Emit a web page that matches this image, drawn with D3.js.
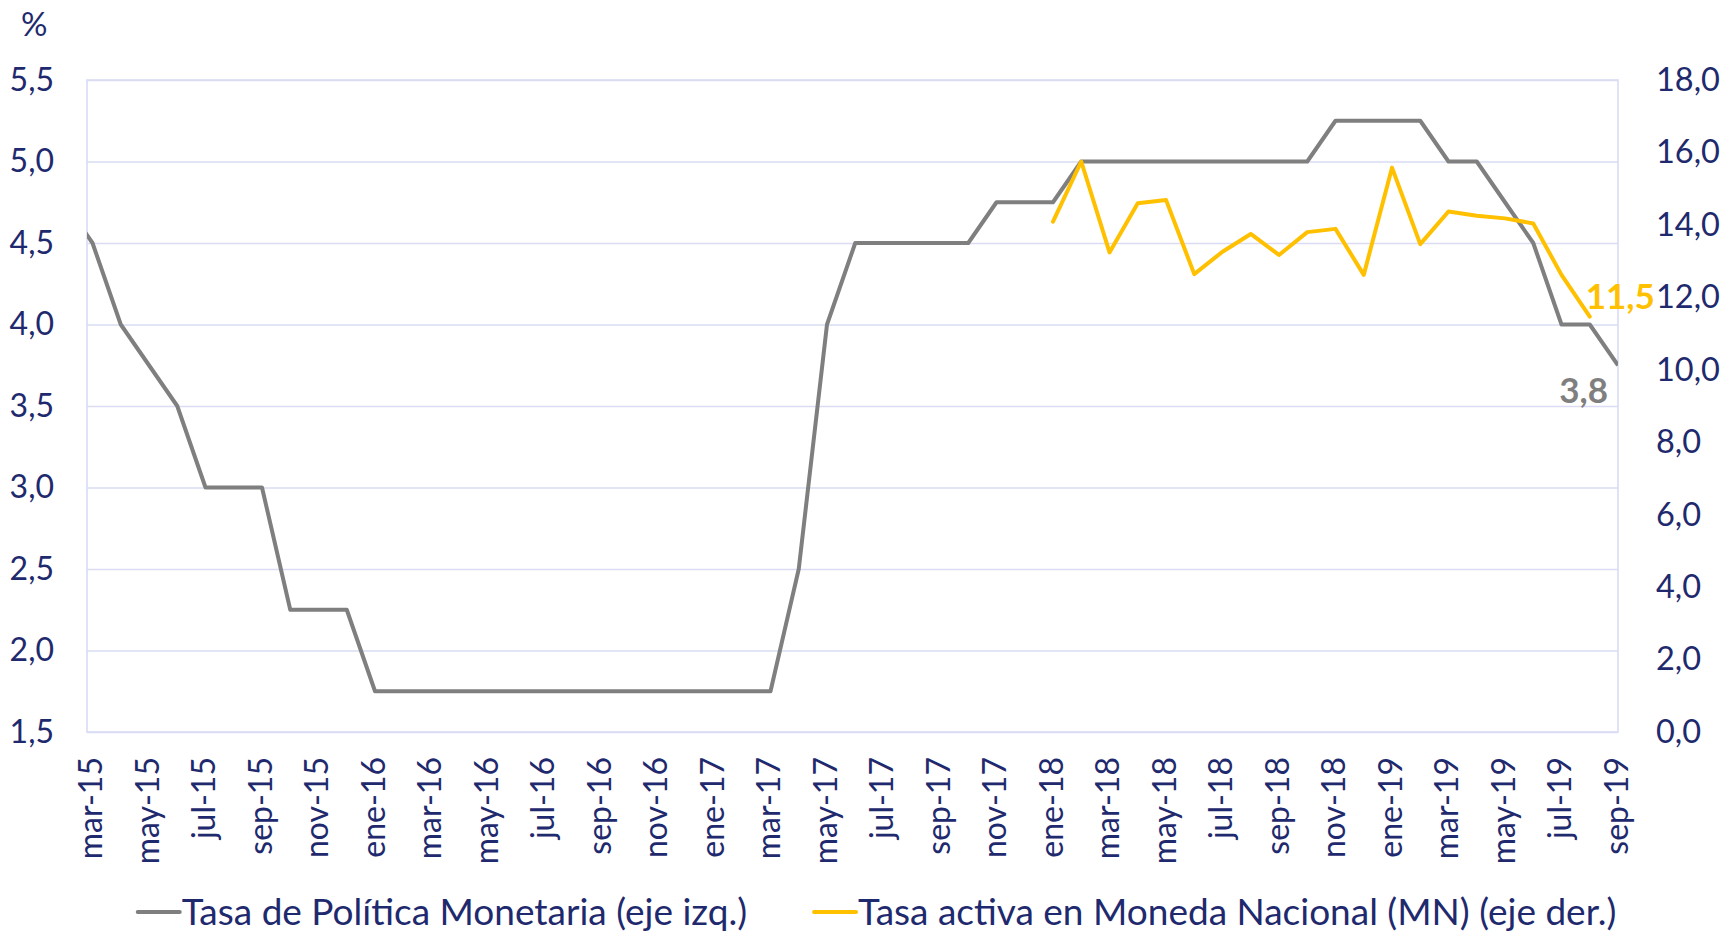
<!DOCTYPE html>
<html>
<head>
<meta charset="utf-8">
<script src="https://cdn.jsdelivr.net/npm/d3@7"></script>
<style>
  body { margin: 0; background: #fff; }
  svg text { font-family: Lato, "Noto Sans", sans-serif; }
</style>
</head>
<body>
<div id="chart"></div>
<script>
// meses (feb-15 queda fuera del eje, solo asoma el primer tramo)
var meses = [
  "feb-15","mar-15","abr-15","may-15","jun-15","jul-15","ago-15","sep-15","oct-15","nov-15","dic-15",
  "ene-16","feb-16","mar-16","abr-16","may-16","jun-16","jul-16","ago-16","sep-16","oct-16","nov-16","dic-16",
  "ene-17","feb-17","mar-17","abr-17","may-17","jun-17","jul-17","ago-17","sep-17","oct-17","nov-17","dic-17",
  "ene-18","feb-18","mar-18","abr-18","may-18","jun-18","jul-18","ago-18","sep-18","oct-18","nov-18","dic-18",
  "ene-19","feb-19","mar-19","abr-19","may-19","jun-19","jul-19","ago-19","sep-19"
];

// Tasa de Politica Monetaria (eje izq.)
var tpm = [
  4.75, 4.5, 4.0, 3.75, 3.5, 3.0, 3.0, 3.0, 2.25, 2.25, 2.25,
  1.75, 1.75, 1.75, 1.75, 1.75, 1.75, 1.75, 1.75, 1.75, 1.75, 1.75, 1.75,
  1.75, 1.75, 1.75, 2.5, 4.0, 4.5, 4.5, 4.5, 4.5, 4.5, 4.75, 4.75,
  4.75, 5.0, 5.0, 5.0, 5.0, 5.0, 5.0, 5.0, 5.0, 5.0, 5.25, 5.25,
  5.25, 5.25, 5.0, 5.0, 4.75, 4.5, 4.0, 4.0, 3.75
];

// Tasa activa en MN (eje der.), desde ene-18
var activaDesde = "ene-18";
var tasaActiva = [
  14.09, 15.75, 13.24, 14.6, 14.69, 12.64, 13.26, 13.75, 13.17, 13.8, 13.89, 12.62,
  15.58, 13.47, 14.37, 14.25, 14.18, 14.04, 12.62, 11.47
];

var ticksIzq = [1.5, 2.0, 2.5, 3.0, 3.5, 4.0, 4.5, 5.0, 5.5];
var ticksDer = [0, 2, 4, 6, 8, 10, 12, 14, 16, 18];
var etiquetasX = meses.filter(function(m, i) { return i % 2 == 1; });

var nombres = ["Tasa de Política Monetaria (eje izq.)", "Tasa activa en Moneda Nacional (MN) (eje der.)"];
var colores = ["#7f7f7f", "#ffc000"];

var azul = "#1f2a6e";
var grilla = "#d9dcf3";

var svgWidth = 1728;
var svgHeight = 931;
var margin = { top: 80, right: 110, bottom: 199, left: 87 };
var width = svgWidth - margin.left - margin.right;
var height = svgHeight - margin.top - margin.bottom;

var fmt = d3.formatLocale({ decimal: ",", thousands: ".", grouping: [3], currency: ["", ""] }).format(".1f");

var svg = d3.select("#chart").append("svg")
  .attr("width", svgWidth)
  .attr("height", svgHeight);

var chartGroup = svg.append("g")
  .attr("transform", `translate(${margin.left}, ${margin.top})`);

// el eje de fechas arranca un poco antes de mar-15
var x = d3.scaleLinear()
  .domain([0.805, meses.length - 1])
  .range([0, width]);

var yIzq = d3.scaleLinear().domain([1.5, 5.5]).range([height, 0]);
var yDer = d3.scaleLinear().domain([0, 18]).range([height, 0]);

chartGroup.append("defs").append("clipPath").attr("id", "area")
  .append("rect").attr("width", width).attr("height", height);

// grilla + eje izq
var ejeIzq = chartGroup.append("g")
  .call(d3.axisLeft(yIzq).tickValues(ticksIzq).tickSize(-width).tickPadding(33).tickFormat(fmt));
ejeIzq.select(".domain").remove();
ejeIzq.selectAll("line").attr("stroke", grilla).attr("stroke-width", 1.6);
ejeIzq.selectAll("text").attr("fill", azul).attr("font-size", 32);

chartGroup.append("rect")
  .attr("width", width).attr("height", height)
  .attr("fill", "none").attr("stroke", grilla).attr("stroke-width", 1.6);

// eje der
var ejeDer = chartGroup.append("g")
  .attr("transform", `translate(${width}, 0)`)
  .call(d3.axisRight(yDer).tickValues(ticksDer).tickSize(0).tickPadding(38).tickFormat(fmt));
ejeDer.select(".domain").remove();
ejeDer.selectAll("text").attr("fill", azul).attr("font-size", 32.5);

// eje x
var ejeX = chartGroup.append("g")
  .attr("transform", `translate(0, ${height})`)
  .call(d3.axisBottom(x)
    .tickValues(etiquetasX.map(function(m) { return meses.indexOf(m); }))
    .tickSize(0)
    .tickFormat(function(i) { return meses[i]; }));
ejeX.select(".domain").remove();
ejeX.selectAll("text")
  .attr("transform", "rotate(-90)")
  .attr("text-anchor", "end")
  .attr("x", -25)
  .attr("y", -2)
  .attr("dy", "0.35em")
  .attr("fill", azul)
  .attr("font-size", 32);

svg.append("text")
  .attr("x", 21).attr("y", 36)
  .attr("fill", azul).attr("font-size", 33)
  .text("%");

// series
var datosTpm = tpm.map(function(v, i) { return { i: i, v: v }; });
var ini = meses.indexOf(activaDesde);
var datosActiva = tasaActiva.map(function(v, j) { return { i: ini + j, v: v }; });

var lineaIzq = d3.line().x(d => x(d.i)).y(d => yIzq(d.v));
var lineaDer = d3.line().x(d => x(d.i)).y(d => yDer(d.v));

var lineas = chartGroup.append("g").attr("clip-path", "url(#area)");

lineas.append("path")
  .datum(datosTpm)
  .attr("d", lineaIzq)
  .attr("fill", "none")
  .attr("stroke", colores[0])
  .attr("stroke-width", 4)
  .attr("stroke-linejoin", "round");

lineas.append("path")
  .datum(datosActiva)
  .attr("d", lineaDer)
  .attr("fill", "none")
  .attr("stroke", colores[1])
  .attr("stroke-width", 4)
  .attr("stroke-linejoin", "round")
  .attr("stroke-linecap", "round");

// etiquetas del ultimo dato
var ultTpm = datosTpm[datosTpm.length - 1];
chartGroup.append("text")
  .attr("x", x(ultTpm.i) - 10)
  .attr("y", yIzq(ultTpm.v) + 38)
  .attr("text-anchor", "end")
  .attr("font-size", 35)
  .attr("font-weight", "bold")
  .attr("fill", colores[0])
  .text(fmt(ultTpm.v));

var ultAct = datosActiva[datosActiva.length - 1];
chartGroup.append("text")
  .attr("x", x(ultAct.i) - 4)
  .attr("y", yDer(ultAct.v) - 8)
  .attr("text-anchor", "start")
  .attr("font-size", 35)
  .attr("font-weight", "bold")
  .attr("fill", colores[1])
  .text(fmt(ultAct.v));

// leyenda
var leyenda = svg.append("g").attr("transform", "translate(0, 912)");
var pos = 0;
nombres.forEach(function(n, k) {
  var item = leyenda.append("g").attr("transform", `translate(${pos}, 0)`);
  item.append("line")
    .attr("x1", 0).attr("x2", 42)
    .attr("stroke", colores[k]).attr("stroke-width", 4).attr("stroke-linecap", "round");
  var t = item.append("text")
    .attr("x", 44).attr("y", 12.5)
    .attr("fill", azul).attr("font-size", 37)
    .text(n);
  pos += 44 + t.node().getComputedTextLength() + 67;
});
var total = pos - 67;
leyenda.attr("transform", `translate(${877 - total / 2}, 912)`);
</script>
</body>
</html>
